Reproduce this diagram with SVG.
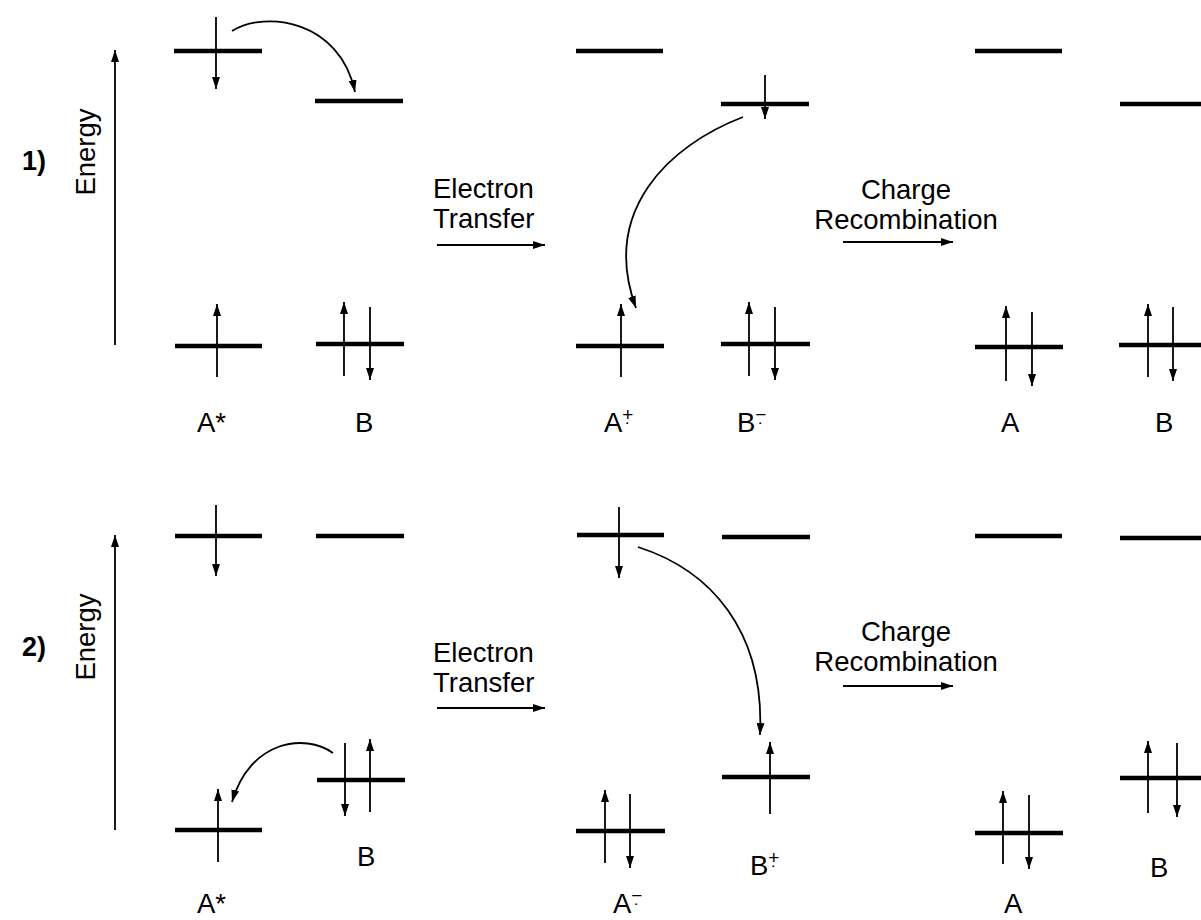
<svg xmlns="http://www.w3.org/2000/svg" width="1201" height="920" viewBox="0 0 1201 920">
<defs>
<marker id="ah" markerUnits="userSpaceOnUse" markerWidth="13" markerHeight="8" refX="12" refY="4" orient="auto"><path d="M0,0 L12,4 L0,8 z" fill="#000"/></marker>
<style>
.lv{stroke:#000;stroke-width:4.5;fill:none}
.ar{stroke:#000;stroke-width:1.8;fill:none;marker-end:url(#ah)}
.cv{stroke:#000;stroke-width:1.8;fill:none;marker-end:url(#ah)}
.t{font-family:"Liberation Sans",Arial,sans-serif;font-size:27.5px;fill:#000}
.b{font-family:"Liberation Sans",Arial,sans-serif;font-size:27px;font-weight:bold;fill:#000}
.s{font-size:19px}
</style>
</defs>
<rect width="1201" height="920" fill="#fff"/>

<!-- Panel 1 -->
<g id="panel1-label"><text class="b" x="22" y="170">1)</text></g>
<g id="energy1">
<line class="ar" x1="115" y1="345" x2="115" y2="50"/>
<text class="t" text-anchor="middle" transform="translate(95,152) rotate(-90)">Energy</text>
</g>
<g id="p1-Astar">
<line class="lv" x1="174" y1="51" x2="262" y2="51"/>
<line class="ar" x1="216" y1="17" x2="216" y2="89"/>
<line class="lv" x1="175" y1="346" x2="262" y2="346"/>
<line class="ar" x1="217" y1="377" x2="217" y2="304"/>
<text class="t" x="197" y="432">A*</text>
</g>
<g id="p1-B">
<line class="lv" x1="315" y1="101" x2="403" y2="101"/>
<line class="lv" x1="316" y1="344" x2="404" y2="344"/>
<line class="ar" x1="344" y1="376" x2="344" y2="302"/>
<line class="ar" x1="370" y1="307" x2="370" y2="380"/>
<text class="t" x="355" y="432">B</text>
</g>
<g id="p1-Aplus">
<line class="lv" x1="576" y1="51" x2="663" y2="51"/>
<line class="lv" x1="576" y1="346" x2="664" y2="346"/>
<line class="ar" x1="621" y1="377" x2="621" y2="304"/>
<text class="t" x="604" y="432">A<tspan class="s" dy="-11">+̣</tspan></text>
</g>
<g id="p1-Bminus">
<line class="lv" x1="721" y1="104" x2="809" y2="104"/>
<line class="ar" x1="765" y1="75" x2="765" y2="119"/>
<line class="lv" x1="721" y1="344" x2="810" y2="344"/>
<line class="ar" x1="749" y1="376" x2="749" y2="302"/>
<line class="ar" x1="775" y1="307" x2="775" y2="380"/>
<text class="t" x="737" y="432">B<tspan class="s" dy="-11">−̣</tspan></text>
</g>
<g id="p1-A">
<line class="lv" x1="975" y1="51" x2="1062" y2="51"/>
<line class="lv" x1="975" y1="347" x2="1063" y2="347"/>
<line class="ar" x1="1006" y1="381" x2="1006" y2="306"/>
<line class="ar" x1="1032" y1="312" x2="1032" y2="386"/>
<text class="t" x="1001" y="432">A</text>
</g>
<g id="p1-Bfinal">
<line class="lv" x1="1120" y1="104" x2="1201" y2="104"/>
<line class="lv" x1="1119" y1="345" x2="1201" y2="345"/>
<line class="ar" x1="1148" y1="377" x2="1148" y2="304"/>
<line class="ar" x1="1173" y1="307" x2="1173" y2="381"/>
<text class="t" x="1155" y="432">B</text>
</g>
<g id="p1-et">
<text class="t" x="433" y="198">Electron</text>
<text class="t" x="433" y="228">Transfer</text>
</g>
<g id="p1-cr">
<text class="t" x="906" y="199" text-anchor="middle">Charge</text>
<text class="t" x="906" y="229" text-anchor="middle">Recombination</text>
</g>

<!-- Panel 2 -->
<g id="panel2-label"><text class="b" x="22" y="656">2)</text></g>
<g id="energy2">
<line class="ar" x1="115" y1="830" x2="115" y2="535"/>
<text class="t" text-anchor="middle" transform="translate(95,637) rotate(-90)">Energy</text>
</g>
<g id="p2-Astar">
<line class="lv" x1="175" y1="536" x2="262" y2="536"/>
<line class="ar" x1="216" y1="505" x2="216" y2="576"/>
<line class="lv" x1="175" y1="830" x2="262" y2="830"/>
<line class="ar" x1="218" y1="862" x2="218" y2="789"/>
<text class="t" x="197" y="913">A*</text>
</g>
<g id="p2-B">
<line class="lv" x1="316" y1="536" x2="404" y2="536"/>
<line class="lv" x1="317" y1="780" x2="405" y2="780"/>
<line class="ar" x1="345" y1="743" x2="345" y2="816"/>
<line class="ar" x1="370" y1="812" x2="370" y2="739"/>
<text class="t" x="357" y="866">B</text>
</g>
<g id="p2-Aminus">
<line class="lv" x1="577" y1="535" x2="664" y2="535"/>
<line class="ar" x1="619" y1="507" x2="619" y2="578"/>
<line class="lv" x1="576" y1="831" x2="665" y2="831"/>
<line class="ar" x1="605" y1="863" x2="605" y2="790"/>
<line class="ar" x1="630" y1="794" x2="630" y2="868"/>
<text class="t" x="613" y="913">A<tspan class="s" dy="-11">−̣</tspan></text>
</g>
<g id="p2-Bplus">
<line class="lv" x1="722" y1="537" x2="810" y2="537"/>
<line class="lv" x1="722" y1="777" x2="810" y2="777"/>
<line class="ar" x1="770" y1="814" x2="770" y2="742"/>
<text class="t" x="750" y="875">B<tspan class="s" dy="-11">+̣</tspan></text>
</g>
<g id="p2-A">
<line class="lv" x1="975" y1="536" x2="1062" y2="536"/>
<line class="lv" x1="975" y1="833" x2="1063" y2="833"/>
<line class="ar" x1="1003" y1="864" x2="1003" y2="791"/>
<line class="ar" x1="1029" y1="795" x2="1029" y2="869"/>
<text class="t" x="1004" y="913">A</text>
</g>
<g id="p2-Bfinal">
<line class="lv" x1="1120" y1="538" x2="1201" y2="538"/>
<line class="lv" x1="1120" y1="778" x2="1201" y2="778"/>
<line class="ar" x1="1148" y1="813" x2="1148" y2="741"/>
<line class="ar" x1="1177" y1="743" x2="1177" y2="817"/>
<text class="t" x="1150" y="877">B</text>
</g>
<g id="p2-et">
<text class="t" x="433" y="662">Electron</text>
<text class="t" x="433" y="692">Transfer</text>
</g>
<g id="p2-cr">
<text class="t" x="906" y="641" text-anchor="middle">Charge</text>
<text class="t" x="906" y="671" text-anchor="middle">Recombination</text>
</g>

<g id="connectors">
<line class="ar" x1="437" y1="245" x2="545" y2="245"/>
<line class="ar" x1="843" y1="242" x2="953" y2="242"/>
<line class="ar" x1="437" y1="708" x2="545" y2="708"/>
<line class="ar" x1="843" y1="686" x2="953" y2="686"/>
<path class="cv" d="M232,31 C265,10 340,20 355,92"/>
<path class="cv" d="M743,117 C670,145 600,210 636,308"/>
<path class="cv" d="M638,547 C710,570 765,630 760,735"/>
<path class="cv" d="M333,753 C305,733 250,740 232,802"/>
</g>
</svg>
